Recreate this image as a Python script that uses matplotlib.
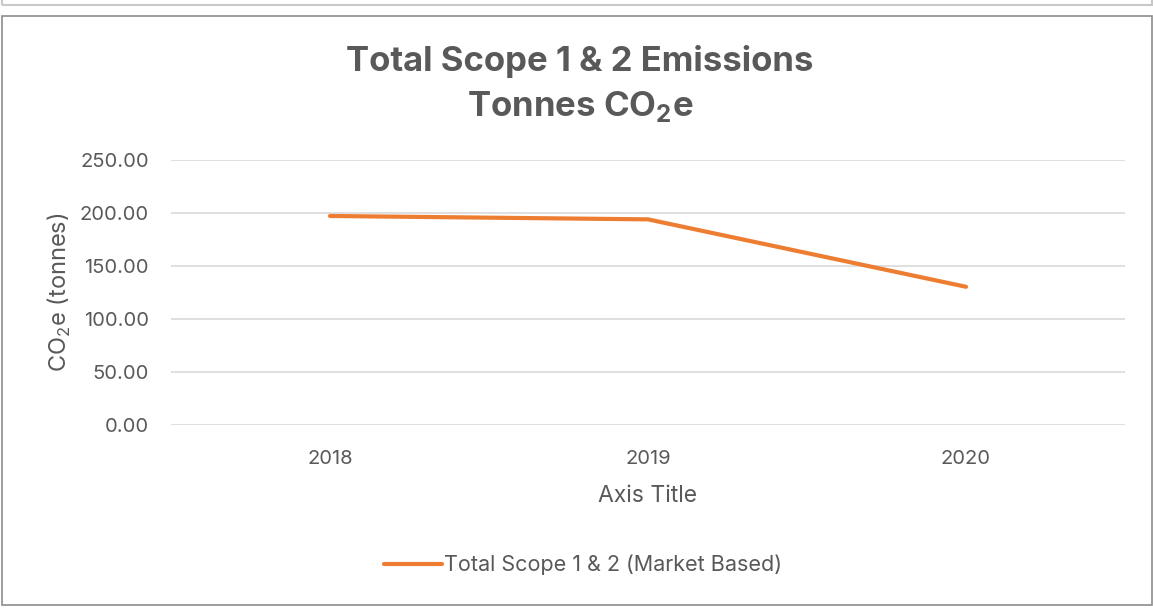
import matplotlib.pyplot as plt
from matplotlib.patches import Rectangle

years = ['2018', '2019', '2020']
emissions = [197.2, 194.0, 130.4]
series_name = 'Total Scope 1 & 2 (Market Based)'
yticks = [0, 50, 100, 150, 200, 250]

plt.rcParams['font.family'] = ['Inter', 'DejaVu Sans']
plt.rcParams['mathtext.fontset'] = 'custom'
plt.rcParams['mathtext.rm'] = 'Inter'
plt.rcParams['mathtext.bf'] = 'Inter:bold'
TXT = '#595959'
W, H = 1153, 608

fig = plt.figure(figsize=(W / 100, H / 100), dpi=100)

# chart frame and the strip above it
fig.patches.append(Rectangle((2 / W, 1 - 605 / H), (W - 3) / W, 589 / H,
                             transform=fig.transFigure, fill=False,
                             edgecolor='#8c8c8c', linewidth=1.2))
fig.patches.append(Rectangle((2 / W, 1 - 5 / H), (W - 3) / W, 10 / H,
                             transform=fig.transFigure, fill=False,
                             edgecolor='#c8c8c8', linewidth=1.5))

ax = fig.add_axes([171 / W, 1 - 425 / H, (1125 - 171) / W, 265 / H])
x = range(len(years))
ax.plot(x, emissions, color='#ED7D31', linewidth=3, solid_capstyle='round',
        label=series_name)
ax.set_xlim(-0.5, len(years) - 0.5)
ax.set_ylim(0, 250)
ax.set_yticks(yticks)
ax.set_yticklabels([f'{v:.2f}' for v in yticks], color=TXT, fontsize=14.5)
ax.set_xticks(list(x))
ax.set_xticklabels(years, color=TXT, fontsize=14.5)
ax.tick_params(axis='y', length=0, pad=16)
ax.tick_params(axis='x', length=0, pad=18)
ax.grid(axis='y', color='#d9d9d9', linewidth=1.2)
ax.set_axisbelow(True)
for s in ax.spines.values():
    s.set_visible(False)

ax.set_ylabel('CO$_\\mathrm{2}$e (tonnes)', color=TXT, fontsize=17, labelpad=5)
ax.set_xlabel('Axis Title', color=TXT, fontsize=16.5, labelpad=12)

fig.text(580 / W, 1 - 61 / H, 'Total Scope 1 & 2 Emissions', ha='center',
         va='center', fontsize=25, fontweight='bold', color=TXT)
fig.text(580 / W, 1 - 106 / H, 'Tonnes CO$_\\mathbf{2}$e', ha='center',
         va='center', fontsize=25, fontweight='bold', color=TXT)

fig.legend(loc='center', bbox_to_anchor=(583 / W, 1 - 565 / H), frameon=False,
           fontsize=15.5, labelcolor=TXT, handlelength=2.7, handletextpad=0.1)

fig.savefig('out.png', dpi=100)
